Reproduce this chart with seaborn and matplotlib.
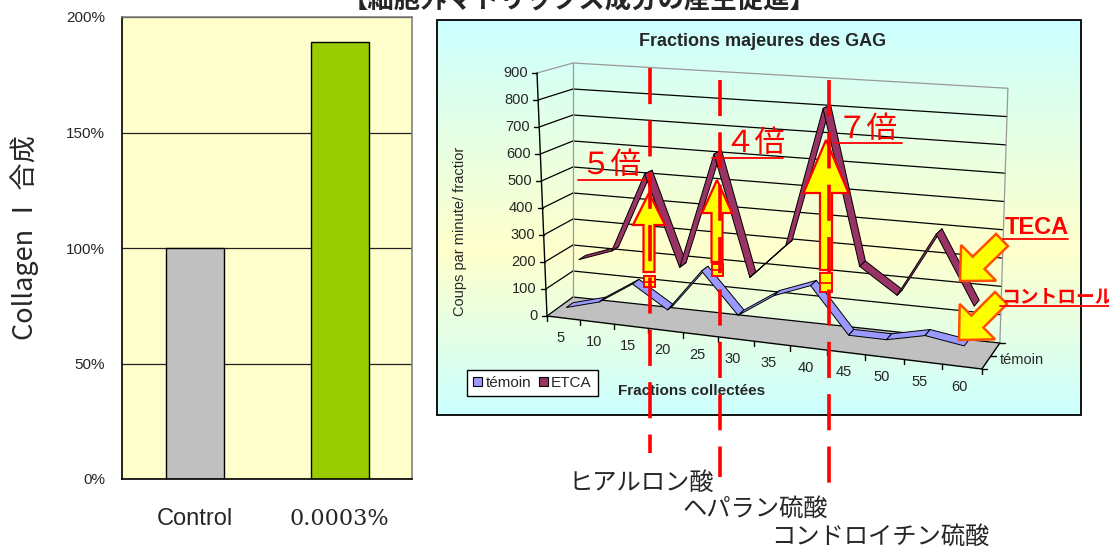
import numpy as np
import pandas as pd
import matplotlib
matplotlib.use("Agg")
import matplotlib.pyplot as plt
import matplotlib.patches as mpatches
import seaborn as sns

# ---- data: left bar chart ----
bar_groups = ["Control", "0.0003%"]
bar_values = [100, 189]
bar_colors = ["#c0c0c0", "#99cc00"]
pct_ticks = [0, 50, 100, 150, 200]

# ---- data: right 3D line chart (GAG fractions) ----
fractions = [5, 10, 15, 20, 25, 30, 35, 40, 45, 50, 55, 60]
temoin = [30, 65, 145, 65, 220, 75, 160, 210, 50, 50, 80, 60]
etca = [175, 220, 520, 185, 615, 175, 305, 810, 255, 165, 395, 155]
count_ticks = [0, 100, 200, 300, 400, 500, 600, 700, 800, 900]
series_names = ["témoin", "ETCA"]
series_colors = ["#9999ff", "#993366"]
fold_labels = ["５倍", "４倍", "７倍"]
gag_names = ["ヒアルロン酸", "ヘパラン硫酸", "コンドロイチン硫酸"]

W, H = 1109, 552
JP = ["Noto Sans CJK JP", "DejaVu Sans"]
LAT = ["Liberation Sans", "DejaVu Sans"]

sns.set_theme(style="white")
plt.rcParams["font.family"] = LAT

fig = plt.figure(figsize=(W / 100, H / 100), dpi=100)

# ================= left: bar chart =================
ax = fig.add_axes([122 / W, 1 - 479 / H, 290 / W, 462 / H])
df = pd.DataFrame({"group": bar_groups, "value": bar_values})
sns.barplot(data=df, x="group", y="value", hue="group", palette=bar_colors, saturation=1,
            width=0.4, edgecolor="black", linewidth=1, legend=False, ax=ax)
ax.set_facecolor("#ffffcc")
ax.set_xlim(-0.5, 1.5)
ax.set_ylim(0, 200)
ax.set_yticks(pct_ticks)
ax.set_yticklabels([f"{v}%" for v in pct_ticks], fontsize=11, family=LAT)
ax.yaxis.grid(True, color="#202020", lw=0.9)
ax.set_axisbelow(True)
ax.set_xlabel("")
ax.set_ylabel("")
ax.tick_params(axis="y", length=0, pad=12)
ax.tick_params(axis="x", which="major", length=0, pad=21)
ax.set_xticks([0.5], minor=True)
ax.tick_params(axis="x", which="minor", direction="in", length=6, width=1, color="black")
ax.set_xticks([0, 1])
ax.set_xticklabels(bar_groups, fontsize=17)
ax.get_xticklabels()[1].set_fontfamily(["DejaVu Serif"])
ax.get_xticklabels()[1].set_fontsize(16)
for side in ["left", "bottom"]:
    ax.spines[side].set_color("black")
    ax.spines[side].set_linewidth(1.2)
for side in ["top", "right"]:
    ax.spines[side].set_color("#808080")
    ax.spines[side].set_linewidth(1.2)

fig.text(25 / W, 1 - 238 / H, "Collagen Ⅰ 合成", rotation=90, ha="center", va="center",
         fontsize=19.5, family=JP)
fig.text(579 / W, 1 - 1 / H, "【細胞外マトリックス成分の産生促進】", ha="center", va="center",
         fontsize=19, family=JP, weight="bold")

# ================= right: pseudo-3D line chart =================
ov = fig.add_axes([0, 0, 1, 1])
ov.axis("off")

# chart area background (vertical cyan-yellow-cyan gradient)
ys = np.linspace(20, 415, 200)
stops_y = [20, 250, 415]
cyan, yellow = (0.80, 1.0, 1.0), (1.0, 1.0, 0.80)
grad = np.stack([np.interp(ys, stops_y, [cyan[c], yellow[c], cyan[c]]) for c in range(3)], axis=-1)
ov.imshow(grad[:, None, :], extent=(437, 1081, 415, 20), aspect="auto", zorder=0)
ov.add_patch(mpatches.Rectangle((437, 20), 644, 395, fill=False, edgecolor="black", lw=1.3, zorder=1))
ov.set_xlim(0, W)
ov.set_ylim(H, 0)


def proj(k, v, d):
    # k: position along category axis (0..12), v: value, d: depth (0 front .. 1 back)
    k = np.asarray(k, dtype=float)
    v = np.asarray(v, dtype=float)
    xo = 32.7 * k + 0.295 * k ** 2
    t = xo / 435
    x = 547 + xo + d * (26 - 8 * t) + v * (-10 + 10 * d + 8 * t) / 900
    y = 316 + 53 * t + d * (-19 - 7 * t) - v * (0.270 + 0.023 * t - 0.010 * d)
    return x, y


ncat = len(fractions)

# floor
floor = [proj(0, 0, 0), proj(ncat, 0, 0), proj(ncat, 0, 1), proj(0, 0, 1)]
ov.add_patch(mpatches.Polygon(floor, closed=True, facecolor="#c0c0c0", edgecolor="none", zorder=2))

# walls: gridlines on left and back wall
for v in count_ticks:
    col = "#999999" if v == count_ticks[-1] else "black"
    x0, y0 = proj(0, v, 0)
    x1, y1 = proj(0, v, 1)
    x2, y2 = proj(ncat, v, 1)
    ov.plot([x0, x1], [y0, y1], color=col, lw=0.9, zorder=3)
    ov.plot([x1, x2], [y1, y2], color=col, lw=0.9, zorder=3)
for kk in [0, ncat]:
    xa, ya = proj(kk, 0, 1)
    xb, yb = proj(kk, count_ticks[-1], 1)
    ov.plot([xa, xb], [ya, yb], color="#999999", lw=0.9, zorder=3)

# value axis (front-left)
xa, ya = proj(0, 0, 0)
xb, yb = proj(0, count_ticks[-1], 0)
ov.plot([xa, xb], [ya, yb], color="black", lw=1.0, zorder=4)
for v in count_ticks:
    x, y = proj(0, v, 0)
    ov.plot([x - 5, x], [y, y], color="black", lw=1.0, zorder=4)
    ov.text(x - 9, y, str(v), ha="right", va="center", fontsize=10.5, zorder=4)

# category axis (front edge)
xa, ya = proj(0, 0, 0)
xb, yb = proj(ncat, 0, 0)
ov.plot([xa, xb], [ya, yb], color="black", lw=1.0, zorder=4)
for kk in range(ncat + 1):
    x, y = proj(kk, 0, 0)
    ov.plot([x, x], [y, y + 5], color="black", lw=1.0, zorder=4)
for i, f in enumerate(fractions):
    x, y = proj(i + 0.5, 0, 0)
    ov.text(x - 3, y + 20, str(f), ha="center", va="center", fontsize=10.5, zorder=4)

# depth axis
xa, ya = proj(ncat, 0, 0)
xb, yb = proj(ncat, 0, 1)
ov.plot([xa, xb], [ya, yb], color="black", lw=1.0, zorder=4)
for dd in [0, 0.5, 1]:
    x, y = proj(ncat, 0, dd)
    ov.plot([x, x + 5], [y, y], color="black", lw=1.0, zorder=4)
x, y = proj(ncat, 0, 0.5)
ov.text(x + 31, y + 4, series_names[0], ha="center", va="center", fontsize=10.5, zorder=4)


def ribbon(values, d0, d1, color, z):
    k = np.arange(len(values)) + 0.5
    fx, fy = proj(k, values, d0)
    bx, by = proj(k, values, d1)
    for j in range(len(values) - 1):
        poly = [(fx[j], fy[j]), (fx[j + 1], fy[j + 1]), (bx[j + 1], by[j + 1]), (bx[j], by[j])]
        ov.add_patch(mpatches.Polygon(poly, closed=True, facecolor=color, edgecolor="black",
                                      lw=0.7, joinstyle="round", zorder=z))


ribbon(etca, 0.625, 0.875, series_colors[1], 5)
ribbon(temoin, 0.125, 0.375, series_colors[0], 6)

# titles
ov.text(763, 42, "Fractions majeures des GAG", ha="center", va="center",
        fontsize=13, weight="bold", zorder=4)
ov.text(460, 231, "Coups par minute/ fractior", rotation=90, ha="center", va="center",
        fontsize=10.5, zorder=4)
ov.text(692, 391, "Fractions collectées", ha="center", va="center",
        fontsize=11, weight="bold", zorder=4)

# legend
handles = [mpatches.Patch(facecolor=c, edgecolor="black", lw=0.8, label=n)
           for n, c in zip(series_names, series_colors)]
leg = ov.legend(handles=handles, loc="lower left", bbox_to_anchor=(467 / W, 1 - 396 / H),
                bbox_transform=fig.transFigure, ncol=2, frameon=True, fancybox=False,
                edgecolor="black", framealpha=1, fontsize=11, handlelength=0.6,
                handleheight=0.6, handletextpad=0.2, columnspacing=0.5, borderpad=0.4,
                borderaxespad=0)
leg.get_frame().set_linewidth(1.0)
leg.set_zorder(7)

# ================= red / yellow annotations =================
ARROW_FACE, ARROW_EDGE = "#ffff00", "#ff0000"
up_arrows = [  # x, tail y, tip y, shaft width, head width, head length, bit top, bit bottom
    (649, 272, 193, 11, 32, 32, 276, 287),
    (717, 262, 180, 11, 30, 33, 264, 276),
    (826, 270, 140, 12, 45, 53, 273, 292),
]
for x, y0, y1, w, hw, hl, b0, b1 in up_arrows:
    ov.add_patch(mpatches.FancyArrow(x, y0, 0, y1 - y0, width=w, head_width=hw, head_length=hl,
                                     length_includes_head=True, facecolor=ARROW_FACE,
                                     edgecolor=ARROW_EDGE, lw=1.6, zorder=8))
    ov.add_patch(mpatches.Rectangle((x - w / 2, b0), w, b1 - b0, facecolor=ARROW_FACE,
                                    edgecolor=ARROW_EDGE, lw=1.4, zorder=8))
    ov.plot([x - w / 2, x + w / 2], [(b0 + b1) / 2] * 2, color=ARROW_EDGE, lw=1.2, zorder=8)

for x0, y0, x1, y1 in [(1002, 240, 960, 281), (1001, 298, 959, 340)]:
    ov.add_patch(mpatches.FancyArrow(x0, y0, x1 - x0, y1 - y0, width=17, head_width=50,
                                     head_length=26, length_includes_head=True,
                                     facecolor=ARROW_FACE, edgecolor="#ff5000", lw=1.8, zorder=8))

for x, y0, y1 in [(650, 68, 453), (720, 80, 477), (829, 80, 485)]:
    ov.plot([x, x], [y0, y1], color="red", lw=2.6, ls=(0, (10, 4.5)),
            solid_capstyle="butt", dash_capstyle="butt", zorder=9)

# fold labels
for (x, y, ux0, ux1, uy), lab in zip([(580, 166, 578, 645, 180), (724, 144, 712, 783, 158),
                                      (837, 129, 835, 902, 143)], fold_labels):
    ov.text(x, y, lab, ha="left", va="center", fontsize=22, color="red", family=JP, zorder=9)
    ov.plot([ux0, ux1], [uy, uy], color="red", lw=1.3, zorder=9)

ov.text(1005, 228, "TECA", ha="left", va="center", fontsize=17, weight="bold", color="red", zorder=9)
ov.plot([1003, 1068], [239, 239], color="red", lw=1.3, zorder=9)
ov.text(1001, 297, "コントロール", ha="left", va="center", fontsize=13.5, weight="bold",
        color="red", family=JP, zorder=9)
ov.plot([1000, 1109], [306, 306], color="red", lw=1.3, zorder=9)

for (x, y), name in zip([(569, 483), (682, 510), (771, 538)], gag_names):
    ov.text(x, y, name, ha="left", va="center", fontsize=17.5, family=JP, zorder=9)

fig.savefig("out.png", dpi=100)
